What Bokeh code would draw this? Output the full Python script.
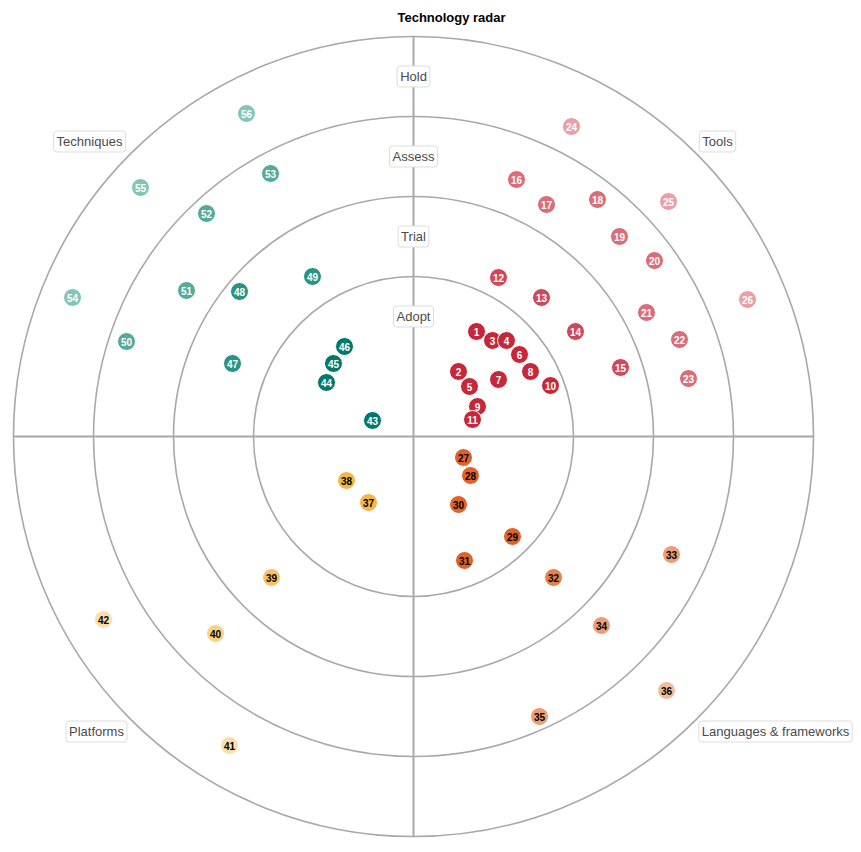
from bokeh.plotting import figure
from bokeh.models import Range1d, ColumnDataSource
from bokeh.core.properties import value
from bokeh.embed import file_html
from bokeh.resources import INLINE

# ---- data ----
title = "Technology radar"
rings = ["Adopt", "Trial", "Assess", "Hold"]
ring_radii = [160, 240, 320, 400]
quadrants = ["Techniques", "Tools", "Platforms", "Languages & frameworks"]
quadrant_label_x = [-324, 304, -317, 362]
quadrant_label_y = [295, 295, -295, -295]

tools_ids = list(range(1, 27))
tools_x = [63, 45, 79, 93, 56, 106, 85, 117, 64, 137, 59, 85, 128, 162, 207,
           103, 133, 184, 206, 241, 233, 266, 275, 158, 255, 334]
tools_y = [105, 65, 96, 96, 50, 82, 57, 65, 30, 51, 17, 159, 139, 105, 69,
           257, 232, 237, 200, 176, 124, 97, 58, 310, 235, 137]
tools_ring = [0]*11 + [1]*4 + [2]*8 + [3]*3

lang_ids = list(range(27, 37))
lang_x = [50, 57, 99, 45, 51, 140, 258, 188, 126, 253]
lang_y = [-21, -39, -100, -68, -124, -141, -118, -189, -280, -254]
lang_ring = [0]*5 + [1] + [2]*3 + [3]

plat_ids = list(range(37, 43))
plat_x = [-45, -67, -142, -198, -184, -310]
plat_y = [-66, -44, -141, -197, -309, -183]
plat_ring = [0, 0, 1, 2, 3, 3]

tech_ids = list(range(43, 57))
tech_x = [-41, -87, -80, -69, -181, -174, -101, -287, -227, -207, -143, -341, -273, -167]
tech_y = [16, 54, 73, 90, 73, 145, 160, 95, 146, 223, 263, 139, 249, 323]
tech_ring = [0]*4 + [1]*3 + [2]*4 + [3]*3

palettes = {
    "Tools": ["#c6283b", "#d0495a", "#d96e79", "#e8a0a6"],
    "Languages & frameworks": ["#e0622a", "#e8804a", "#ec9d75", "#f2bc9e"],
    "Platforms": ["#f6b740", "#f8c460", "#fad283", "#fcdfa8"],
    "Techniques": ["#007a6c", "#2a9484", "#55aa9c", "#84c5b9"],
}
label_colors = {"Tools": "white", "Languages & frameworks": "black",
                "Platforms": "black", "Techniques": "white"}

FONT = value("Liberation Sans")
GRID = "#a8a8a8"

p = figure(width=855, height=846, x_range=Range1d(-413, 442), y_range=Range1d(-410, 436),
           output_backend="svg", toolbar_location=None, min_border=0)
p.axis.visible = False
p.grid.visible = False
p.outline_line_color = None

# rings
p.circle(x=[0]*len(ring_radii), y=[0]*len(ring_radii), radius=ring_radii,
         fill_color=None, line_color=GRID, line_width=1.6)
outer = ring_radii[-1]
p.segment(x0=[0, -outer], y0=[-outer, 0], x1=[0, outer], y1=[outer, 0],
          line_color=GRID, line_width=2)

# ring labels
p.text(x=[0]*4, y=[r - 40 for r in ring_radii], text=rings, text_align="center",
       text_baseline="middle", text_font=FONT, text_font_size="13px", text_color="#4a4a4a",
       background_fill_color="white", border_line_color="#dddddd", border_line_width=1,
       padding=3, border_radius=3)

# quadrant labels
p.text(x=quadrant_label_x, y=quadrant_label_y, text=quadrants, text_align="center",
       text_baseline="middle", text_font=FONT, text_font_size="13px", text_color="#4a4a4a",
       background_fill_color="white", border_line_color="#dddddd", border_line_width=1,
       padding=3, border_radius=3)

# title
p.text(x=[38], y=[419], text=[title], text_align="center", text_baseline="middle",
       text_font=FONT, text_font_size="13px", text_font_style="bold", text_color="black")

groups = [
    ("Tools", tools_ids, tools_x, tools_y, tools_ring),
    ("Languages & frameworks", lang_ids, lang_x, lang_y, lang_ring),
    ("Platforms", plat_ids, plat_x, plat_y, plat_ring),
    ("Techniques", tech_ids, tech_x, tech_y, tech_ring),
]
for name, ids, xs, ys, rg in groups:
    src = ColumnDataSource(dict(x=xs, y=ys, label=[str(i) for i in ids],
                                color=[palettes[name][r] for r in rg]))
    p.scatter("x", "y", source=src, size=18, fill_color="color", line_color="white",
              line_width=1)
    p.text("x", "y", text="label", source=src, text_align="center", text_baseline="middle",
           text_font=FONT, text_font_size="10px", text_font_style="bold",
           text_color=label_colors[name])

open("out.html", "w").write(file_html(p, INLINE))
